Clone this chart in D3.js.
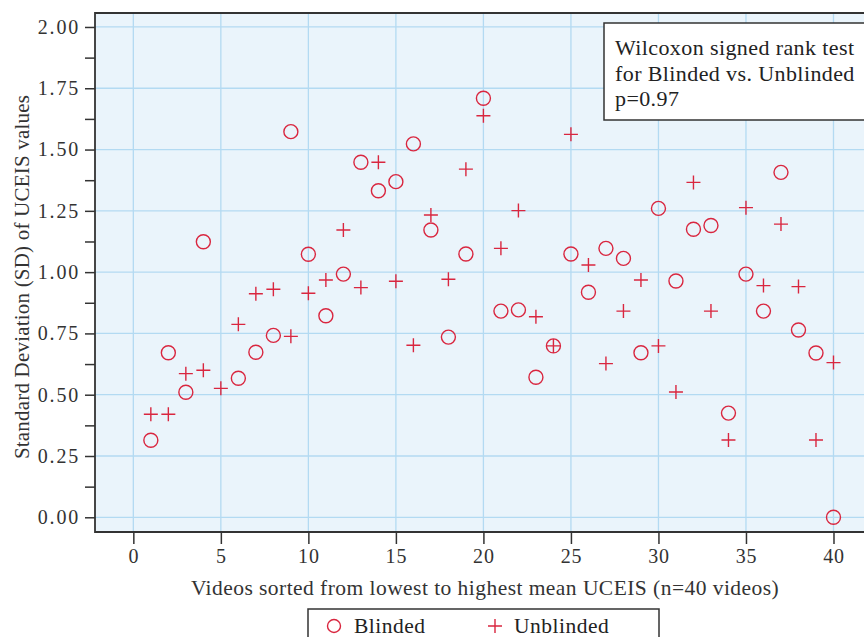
<!DOCTYPE html>
<html>
<head>
<meta charset="utf-8">
<script src="https://cdn.jsdelivr.net/npm/d3@7"></script>
<style>
  body { margin: 0; background: #fff; }
  svg { display: block; font-family: "Liberation Serif", "DejaVu Serif", serif; }
</style>
</head>
<body>
<div id="maindiv"></div>
<script>
// video index 1..40 (null = not plotted)
var videos = d3.range(1, 41);
var blinded = [0.314, 0.671, 0.510, 1.124, null, 0.567, 0.673, 0.742, 1.573, 1.073,
               0.822, 0.992, 1.448, 1.332, 1.369, 1.523, 1.172, 0.735, 1.074, 1.709,
               0.841, 0.846, 0.571, 0.699, 1.074, 0.918, 1.097, 1.056, 0.671, 1.260,
               0.964, 1.175, 1.190, 0.425, 0.992, 0.841, 1.407, 0.764, 0.670, 0.0];
var unblinded = [0.420, 0.420, 0.586, 0.600, 0.526, 0.787, 0.912, 0.930, 0.738, 0.914,
                 0.968, 1.172, 0.937, 1.448, 0.963, 0.702, 1.233, 0.971, 1.420, 1.638,
                 1.097, 1.251, 0.818, 0.699, 1.562, 1.029, 0.627, 0.841, 0.968, 0.699,
                 0.511, 1.366, 0.841, 0.315, 1.263, 0.945, 1.196, 0.941, 0.315, 0.631];
var xTicks = [0, 5, 10, 15, 20, 25, 30, 35, 40];
var yTicks = [0, 0.25, 0.5, 0.75, 1.0, 1.25, 1.5, 1.75, 2.0];
var yMinor = [0.125, 0.375, 0.625, 0.875, 1.125, 1.375, 1.625, 1.875];
var noteLines = ["Wilcoxon signed rank test", "for Blinded vs. Unblinded", "p=0.97"];

var width = 864, height = 637;
var margin = { top: 13, right: -8, bottom: 105, left: 95 };
var red = "#d9263f";

var svg = d3.select("#maindiv").append("svg")
    .attr("width", width).attr("height", height);

var x = d3.scaleLinear()
    .domain([-2.19, 42.2])
    .range([margin.left, width - margin.right]);
var y = d3.scaleLinear()
    .domain([-0.06, 2.057])
    .range([height - margin.bottom, margin.top]);

var plotW = x.range()[1] - x.range()[0];
var plotH = y.range()[0] - y.range()[1];

// background
svg.append("rect")
    .attr("x", margin.left).attr("y", margin.top)
    .attr("width", plotW).attr("height", plotH)
    .attr("fill", "#eaf4fb");

// grid
var grid = svg.append("g").attr("stroke", "#b3daf2").attr("stroke-width", 1.3);
grid.selectAll(".gx").data(xTicks).enter().append("line")
    .attr("x1", d => x(d)).attr("x2", d => x(d))
    .attr("y1", margin.top).attr("y2", y.range()[0]);
grid.selectAll(".gy").data(yTicks).enter().append("line")
    .attr("x1", margin.left).attr("x2", x.range()[1])
    .attr("y1", d => y(d)).attr("y2", d => y(d));

// axes
function yAxis(g) {
    g.attr("transform", `translate(${margin.left},0)`)
        .call(d3.axisLeft(y).tickValues(yTicks).tickFormat(d3.format(".2f")).tickSize(10).tickPadding(5))
        .attr("font-size", "20px")
        .attr("font-family", null);
    g.select(".domain").remove();
    g.selectAll(".tick line").attr("stroke", "#333").attr("stroke-width", 1.5);
    g.selectAll(".tick text").attr("fill", "#333").attr("letter-spacing", "1.8px");
}
function yAxisMinor(g) {
    g.attr("transform", `translate(${margin.left},0)`)
        .call(d3.axisLeft(y).tickValues(yMinor).tickFormat("").tickSize(10));
    g.select(".domain").remove();
    g.selectAll(".tick line").attr("stroke", "#333").attr("stroke-width", 1.5);
}
function xAxis(g) {
    g.attr("transform", `translate(0,${y.range()[0]})`)
        .call(d3.axisBottom(x).tickValues(xTicks).tickSize(12).tickPadding(5))
        .attr("font-size", "20px")
        .attr("font-family", null);
    g.select(".domain").remove();
    g.selectAll(".tick line").attr("stroke", "#333").attr("stroke-width", 1.5);
    g.selectAll(".tick text").attr("fill", "#333").attr("letter-spacing", "0.8px");
}
svg.append("g").call(yAxis);
svg.append("g").call(yAxisMinor);
svg.append("g").call(xAxis);

// frame
svg.append("path")
    .attr("d", `M${x.range()[1]},${margin.top}H${margin.left}V${y.range()[0]}H${x.range()[1]}`)
    .attr("fill", "none").attr("stroke", "#333").attr("stroke-width", 1.8);

// axis titles
svg.append("text")
    .attr("x", 485).attr("y", 595)
    .attr("text-anchor", "middle").attr("font-size", "21.5px").attr("fill", "#333")
    .attr("letter-spacing", "0.45px")
    .text("Videos sorted from lowest to highest mean UCEIS (n=40 videos)");
svg.append("text")
    .attr("transform", "translate(29,277) rotate(-90)")
    .attr("text-anchor", "middle").attr("font-size", "21px").attr("fill", "#333")
    .attr("letter-spacing", "0.2px")
    .text("Standard Deviation (SD) of UCEIS values");

// markers
var pts = svg.append("g");
pts.selectAll("circle")
    .data(videos.filter((d, i) => blinded[i] != null))
    .enter().append("circle")
    .attr("cx", d => x(d)).attr("cy", d => y(blinded[d - 1]))
    .attr("r", 7)
    .attr("fill", "none").attr("stroke", red).attr("stroke-width", 1.4);
pts.selectAll("path")
    .data(videos)
    .enter().append("path")
    .attr("d", function (d) {
        var cx = x(d), cy = y(unblinded[d - 1]);
        return `M${cx - 7},${cy}H${cx + 7}M${cx},${cy - 7}V${cy + 7}`;
    })
    .attr("fill", "none").attr("stroke", red).attr("stroke-width", 1.4);

// note box
var note = svg.append("g").attr("transform", "translate(604,23)");
note.append("rect")
    .attr("x", 0).attr("y", 0).attr("width", 280).attr("height", 97)
    .attr("fill", "#fff").attr("stroke", "#333").attr("stroke-width", 1.5);
note.selectAll("text").data(noteLines).enter().append("text")
    .attr("x", 11).attr("y", (d, i) => 32 + i * 25.5)
    .attr("font-size", "22px").attr("fill", "#222").attr("letter-spacing", "0.4px")
    .text(d => d);

// legend
var leg = svg.append("g").attr("transform", "translate(308,609)");
leg.append("rect")
    .attr("width", 351).attr("height", 40)
    .attr("fill", "#fff").attr("stroke", "#333").attr("stroke-width", 1.5);
leg.append("circle").attr("cx", 26).attr("cy", 17).attr("r", 6.5)
    .attr("fill", "none").attr("stroke", red).attr("stroke-width", 1.4);
leg.append("path").attr("d", "M180,17H194M187,10V24")
    .attr("fill", "none").attr("stroke", red).attr("stroke-width", 1.4);
leg.selectAll("text").data(["Blinded", "Unblinded"]).enter().append("text")
    .attr("x", (d, i) => i == 0 ? 46 : 206).attr("y", 24)
    .attr("font-size", "21.5px").attr("fill", "#222").attr("letter-spacing", "0.5px")
    .text(d => d);
</script>
</body>
</html>
